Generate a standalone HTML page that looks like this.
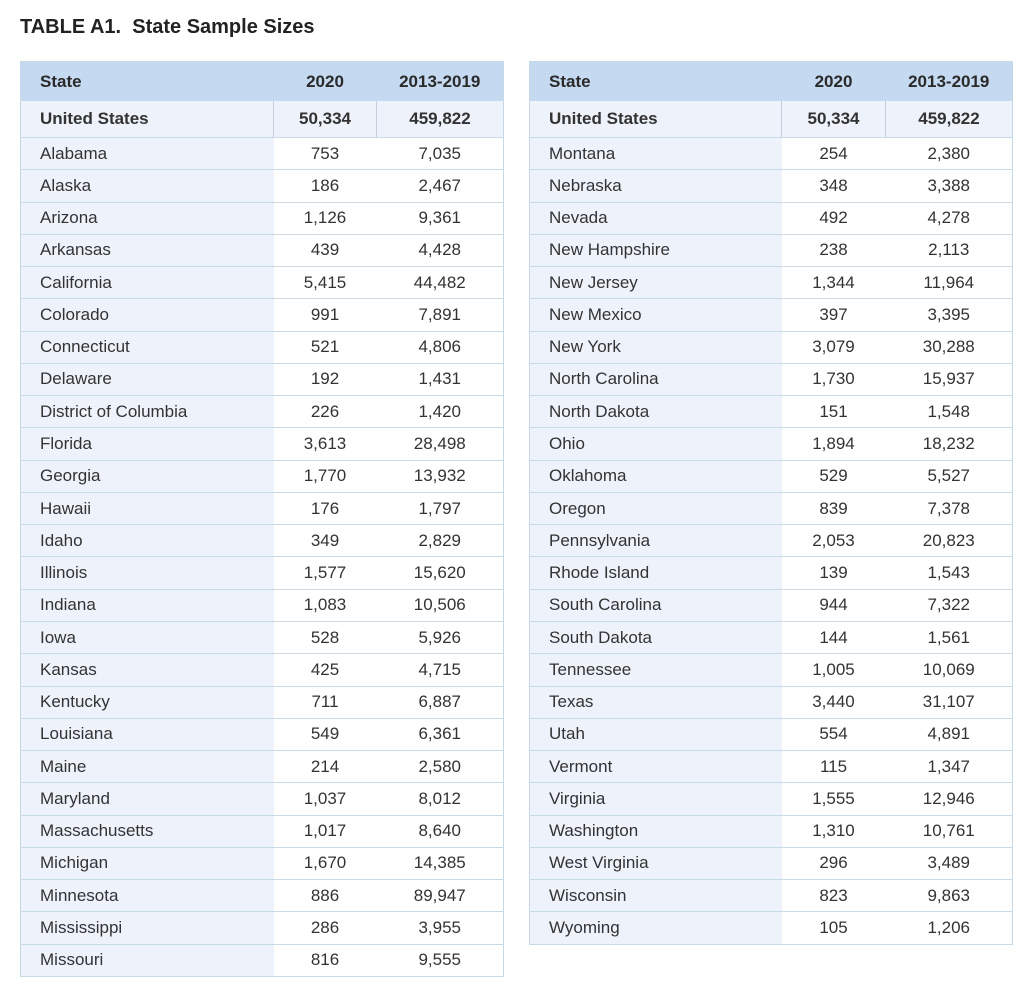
<!DOCTYPE html>
<html><head><meta charset="utf-8"><style>
body{margin:0;background:#fff;width:1032px;height:999px;position:relative;font-family:"Liberation Sans",sans-serif;color:#333;}
h1{position:absolute;left:20px;top:16px;margin:0;font-size:20px;font-weight:bold;color:#222;white-space:pre;}
table{position:absolute;top:61px;border-collapse:collapse;width:483px;table-layout:fixed;font-size:17px;border:1px solid #c4d8e6;}
td,th{padding:0;text-align:center;height:31.27px;border-bottom:1px solid #c9dbe7;}
th{background:#c5d9f0;height:39px;font-weight:bold;color:#2a2a2a;border-bottom:none;}
td:first-child,th:first-child{text-align:left;padding-left:19px;}
td:first-child{background:#edf2fb;}
tr.us td{background:#edf2fb;font-weight:bold;height:36px;}
tr.us td+td{border-left:1px solid #c4cfdc;}
</style></head><body>
<h1>TABLE A1.  State Sample Sizes</h1>
<table style="left:20px">
<colgroup><col style="width:253px"><col style="width:103px"><col style="width:127px"></colgroup>
<tr><th>State</th><th>2020</th><th>2013-2019</th></tr>
<tr class="us"><td>United States</td><td>50,334</td><td>459,822</td></tr>
<tr><td>Alabama</td><td>753</td><td>7,035</td></tr>
<tr><td>Alaska</td><td>186</td><td>2,467</td></tr>
<tr><td>Arizona</td><td>1,126</td><td>9,361</td></tr>
<tr><td>Arkansas</td><td>439</td><td>4,428</td></tr>
<tr><td>California</td><td>5,415</td><td>44,482</td></tr>
<tr><td>Colorado</td><td>991</td><td>7,891</td></tr>
<tr><td>Connecticut</td><td>521</td><td>4,806</td></tr>
<tr><td>Delaware</td><td>192</td><td>1,431</td></tr>
<tr><td>District of Columbia</td><td>226</td><td>1,420</td></tr>
<tr><td>Florida</td><td>3,613</td><td>28,498</td></tr>
<tr><td>Georgia</td><td>1,770</td><td>13,932</td></tr>
<tr><td>Hawaii</td><td>176</td><td>1,797</td></tr>
<tr><td>Idaho</td><td>349</td><td>2,829</td></tr>
<tr><td>Illinois</td><td>1,577</td><td>15,620</td></tr>
<tr><td>Indiana</td><td>1,083</td><td>10,506</td></tr>
<tr><td>Iowa</td><td>528</td><td>5,926</td></tr>
<tr><td>Kansas</td><td>425</td><td>4,715</td></tr>
<tr><td>Kentucky</td><td>711</td><td>6,887</td></tr>
<tr><td>Louisiana</td><td>549</td><td>6,361</td></tr>
<tr><td>Maine</td><td>214</td><td>2,580</td></tr>
<tr><td>Maryland</td><td>1,037</td><td>8,012</td></tr>
<tr><td>Massachusetts</td><td>1,017</td><td>8,640</td></tr>
<tr><td>Michigan</td><td>1,670</td><td>14,385</td></tr>
<tr><td>Minnesota</td><td>886</td><td>89,947</td></tr>
<tr><td>Mississippi</td><td>286</td><td>3,955</td></tr>
<tr><td>Missouri</td><td>816</td><td>9,555</td></tr>
</table>
<table style="left:529px">
<colgroup><col style="width:252px"><col style="width:104px"><col style="width:127px"></colgroup>
<tr><th>State</th><th>2020</th><th>2013-2019</th></tr>
<tr class="us"><td>United States</td><td>50,334</td><td>459,822</td></tr>
<tr><td>Montana</td><td>254</td><td>2,380</td></tr>
<tr><td>Nebraska</td><td>348</td><td>3,388</td></tr>
<tr><td>Nevada</td><td>492</td><td>4,278</td></tr>
<tr><td>New Hampshire</td><td>238</td><td>2,113</td></tr>
<tr><td>New Jersey</td><td>1,344</td><td>11,964</td></tr>
<tr><td>New Mexico</td><td>397</td><td>3,395</td></tr>
<tr><td>New York</td><td>3,079</td><td>30,288</td></tr>
<tr><td>North Carolina</td><td>1,730</td><td>15,937</td></tr>
<tr><td>North Dakota</td><td>151</td><td>1,548</td></tr>
<tr><td>Ohio</td><td>1,894</td><td>18,232</td></tr>
<tr><td>Oklahoma</td><td>529</td><td>5,527</td></tr>
<tr><td>Oregon</td><td>839</td><td>7,378</td></tr>
<tr><td>Pennsylvania</td><td>2,053</td><td>20,823</td></tr>
<tr><td>Rhode Island</td><td>139</td><td>1,543</td></tr>
<tr><td>South Carolina</td><td>944</td><td>7,322</td></tr>
<tr><td>South Dakota</td><td>144</td><td>1,561</td></tr>
<tr><td>Tennessee</td><td>1,005</td><td>10,069</td></tr>
<tr><td>Texas</td><td>3,440</td><td>31,107</td></tr>
<tr><td>Utah</td><td>554</td><td>4,891</td></tr>
<tr><td>Vermont</td><td>115</td><td>1,347</td></tr>
<tr><td>Virginia</td><td>1,555</td><td>12,946</td></tr>
<tr><td>Washington</td><td>1,310</td><td>10,761</td></tr>
<tr><td>West Virginia</td><td>296</td><td>3,489</td></tr>
<tr><td>Wisconsin</td><td>823</td><td>9,863</td></tr>
<tr><td>Wyoming</td><td>105</td><td>1,206</td></tr>
</table>
</body></html>
